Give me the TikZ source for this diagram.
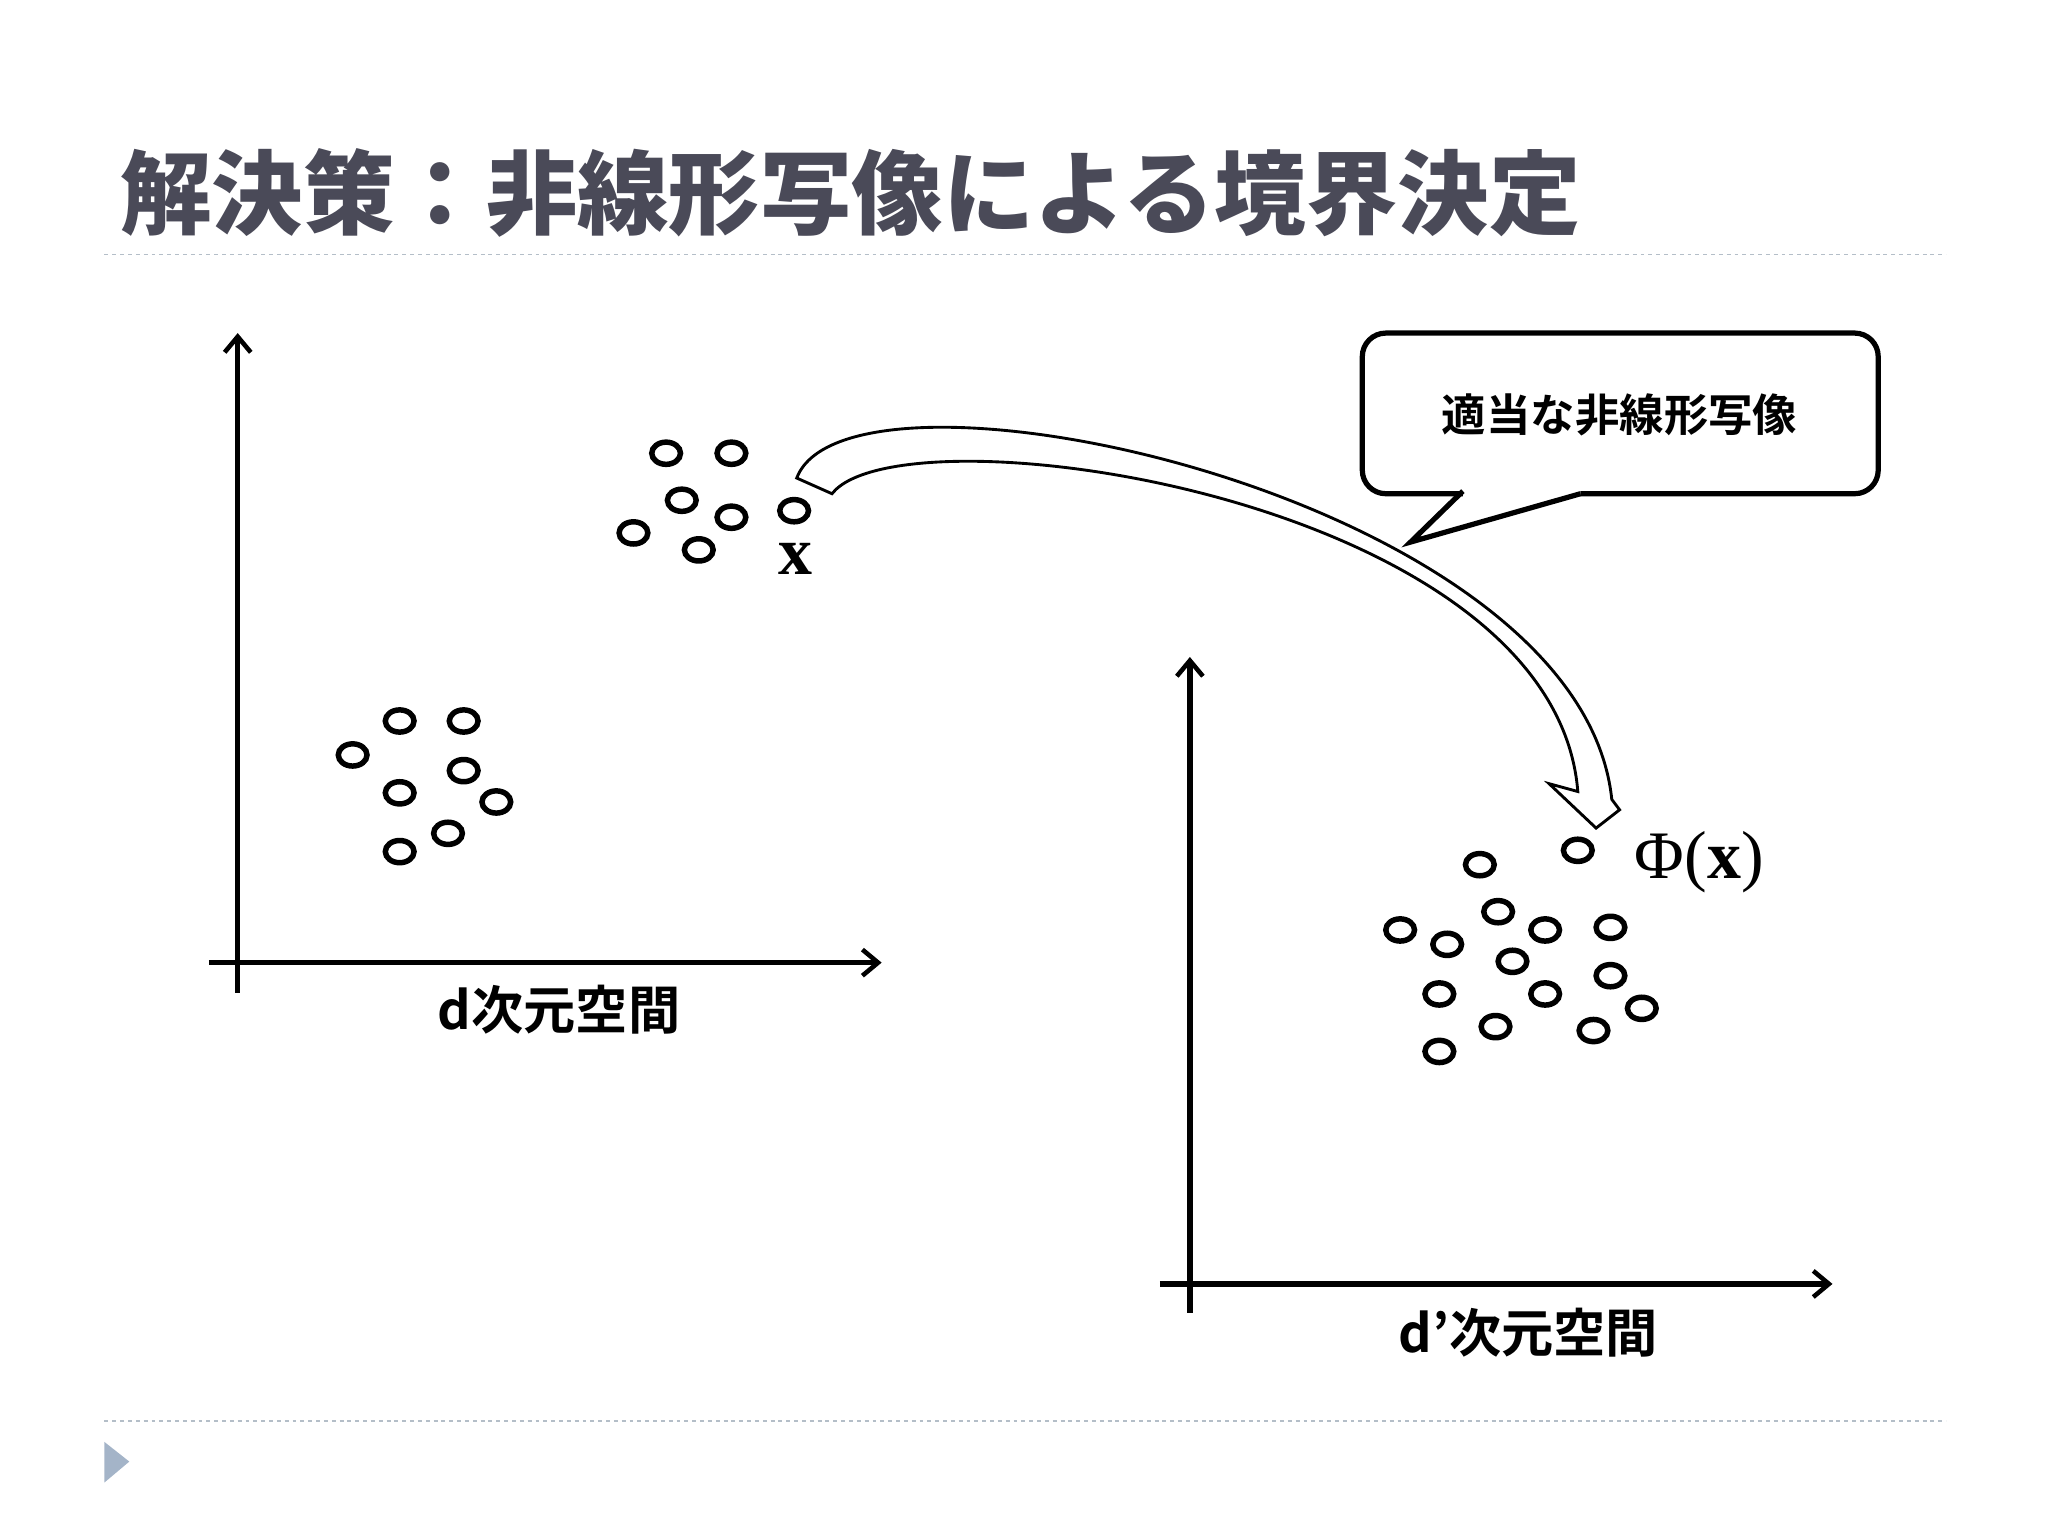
\documentclass[tikz,border=0pt]{standalone}
\usepackage{fontspec}
\setmainfont{Liberation Serif}
\newfontfamily\jp{Noto Sans CJK JP Bold}
\newfontfamily\jpb{Noto Sans CJK JP Black}
\usetikzlibrary{arrows.meta,shapes.geometric}
\definecolor{ttl}{HTML}{4A4A58}
\definecolor{sepc}{HTML}{B4BEC8}
\definecolor{tri}{HTML}{A4B4C8}
\begin{document}
\begin{tikzpicture}[x=1pt,y=-1pt,
  pt/.style={draw,line width=4.2pt,ellipse,minimum width=22pt,minimum height=17pt,inner sep=0pt},
  ax/.style={line width=4.2pt,-{Straight Barb[length=12pt,width=20pt,line width=3.5pt]}},
  sep/.style={draw=sepc,dashed,line width=1.2pt},
  lab/.style={font=\jp\fontsize{40}{42}\selectfont}]
\useasboundingbox (0,0) rectangle (1568,1176);
\node[anchor=west,text=ttl,font=\jpb\fontsize{70}{72}\selectfont,inner sep=0pt] (title) at (92,148) {解決策：非線形写像による境界決定};
\draw[sep] (80,195) -- (1490,195);
\draw[sep] (80,1088) -- (1490,1088);
\fill[tri] (80,1104) -- (99,1119) -- (80,1135) -- cycle;
% axes
\coordinate (l0) at (182,760); \coordinate (l1) at (182,255);
\coordinate (l2) at (160,737); \coordinate (l3) at (675,737);
\draw[ax] (l0) -- (l1); \draw[ax] (l2) -- (l3);
\node[lab] (ll) at (428,773) {d次元空間};
\coordinate (r0) at (911,1005); \coordinate (r1) at (911,503);
\coordinate (r2) at (888,983); \coordinate (r3) at (1403,983);
\draw[ax] (r0) -- (r1); \draw[ax] (r2) -- (r3);
\node[lab] (rl) at (1170,1020) {d’次元空間};
% points
\foreach \p [count=\i] in {(306,552),(355,552),(270,578),(355,590),(306,607),(380,614),(343,638),(306,652)}
  \node[pt] (a\i) at \p {};
\foreach \p [count=\i] in {(510,347),(560,347),(522,383),(560,396),(608,391),(485,408),(535,421)}
  \node[pt] (b\i) at \p {};
\node[font=\bfseries\fontsize{52}{52}\selectfont] (x) at (609,428) {x};
\foreach \p [count=\i] in {(1133,662),(1208,651),(1147,698),(1072,712),(1108,723),(1183,712),(1233,710),(1158,736),(1233,747),(1102,761),(1183,761),(1257,772),(1145,786),(1220,789),(1102,805)}
  \node[pt] (c\i) at \p {};
\node[font=\fontsize{52}{52}\selectfont] (phi) at (1301,660) {Φ(\textbf{x})};
% callout
\draw[line width=4pt,rounded corners=18pt] (1120,378) -- (1043,378) -- (1043,255) -- (1438,255) -- (1438,378) -- (1210,378);
\draw[line width=4pt,line join=miter] (1120,376) -- (1080,415) -- (1210,378);
\node[font=\jp\fontsize{34}{36}\selectfont] (call) at (1240,318) {適当な非線形写像};
% hollow curved arrow
\draw[line width=2.2pt,fill=white,line join=miter]
 (637,378) .. controls (690,310) and (1190,380) .. (1208,606)
 -- (1186,600) -- (1222,634) -- (1240,620) -- (1234,612)
 .. controls (1210,380) and (650,260) .. (610,366) -- cycle;
\end{tikzpicture}
\end{document}
